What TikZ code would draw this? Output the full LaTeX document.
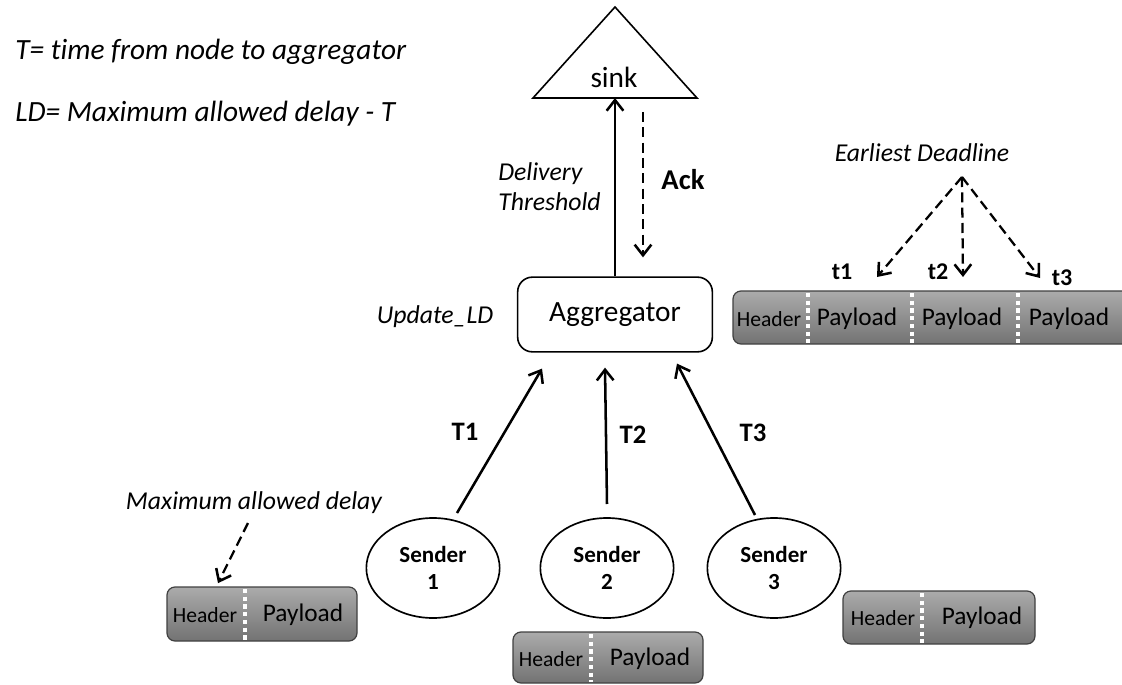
\documentclass[tikz,border=0pt]{standalone}
\usepackage{fontspec}
\setmainfont{Carlito}[Ligatures={NoCommon}]
\usetikzlibrary{arrows.meta,shapes.geometric,calc}

\tikzset{
  arr/.style={black, line width=1.9pt, -{Straight Barb[length=8pt,width=12.5pt,line width=1.9pt]}},
  dasharr/.style={arr, line width=1.7pt, dash pattern=on 7.5pt off 4pt},
  lbl/.style={inner sep=0pt, font=\fontsize{19.3}{22.5}\selectfont\itshape},
  deftxt/.style={inner sep=0pt, anchor=west, font=\fontsize{22}{26}\selectfont\itshape},
  bigtxt/.style={inner sep=0pt, font=\fontsize{22}{26}\selectfont},
  boldtxt/.style={inner sep=0pt, font=\fontsize{20}{24}\selectfont\bfseries},
  smallbold/.style={inner sep=0pt, font=\fontsize{18}{21}\selectfont\bfseries},
  sender/.style={draw, ellipse, line width=1.25pt, minimum width=100pt, minimum height=75pt, inner sep=0pt, align=center, font=\fontsize{17.3}{20}\selectfont\bfseries},
  packet/.style={draw=black!75, line width=0.9pt, rounded corners=6pt, top color=black!33, bottom color=black!55},
  divider/.style={white, line width=3pt, dash pattern=on 3.2pt off 2.6pt},
  hdr/.style={inner sep=0pt, font=\fontsize{16.2}{18}\selectfont},
  pld/.style={inner sep=0pt, font=\fontsize{19}{22}\selectfont},
}

\begin{document}
\begin{tikzpicture}[x=0.75pt, y=-0.75pt]
\useasboundingbox (0,0) rectangle (1122,685);

%% Definitions
\node[deftxt] (tdef) at (15,52) {T= time from node to aggregator};
\node[deftxt] (lddef) at (15,114) {LD= Maximum allowed delay - T};

%% Sink
\draw[line width=1.2pt] (533,98) -- (615,7) -- (697,98) -- cycle;
\coordinate (sinkbase) at (615,98);
\node[bigtxt] (sink) at (614,77) {sink};

%% Aggregator
\node[bigtxt, draw, line width=1.2pt, rounded corners=11pt, minimum width=146pt, minimum height=56pt] (agg) at (615,314.5) {Aggregator};
\node[lbl] (upd) at (435,317) {Update\_LD};

\draw[arr] (agg) -- (sinkbase);
\draw[dasharr] ($(sinkbase)+(28,14)$) -- ($(agg.north)+(28,-19)$);
\node[lbl, anchor=west, align=left] (thr) at (498,187) {Delivery\\Threshold};
\node[boldtxt, font=\fontsize{21.5}{24}\selectfont\bfseries] (ack) at (683,180) {Ack};

%% Senders
\node[sender] (s1) at (433,568) {Sender\\1};
\node[sender] (s2) at (607,568) {Sender\\2};
\node[sender] (s3) at (774,568) {Sender\\3};

\draw[arr] ($(s1)+(24,-55)$) -- ($(agg.south)+(-73,16)$);
\draw[arr] ($(s2)+(0,-64)$) -- ($(agg.south)+(-10,15)$);
\draw[arr] ($(s3)+(-19,-53)$) -- ($(agg.south)+(62,11)$);
\node[boldtxt] (T1) at (465,432) {T1};
\node[boldtxt] (T2) at (633,435) {T2};
\node[boldtxt] (T3) at (753,433) {T3};

%% Aggregated packet
\draw[packet] (733,291) rectangle (1135,344);
\draw[divider] (808,293) -- (808,343);
\draw[divider] (912,293) -- (912,343);
\draw[divider] (1018,293) -- (1018,343);
\node[hdr] (ha) at (769,319) {Header};
\node[pld] (pa1) at (857,319) {Payload};
\node[pld] (pa2) at (962,319) {Payload};
\node[pld] (pa3) at (1069,319) {Payload};

\node[lbl] (edl) at (922,153) {Earliest Deadline};
\node[smallbold] (t1) at (842,272) {t1};
\node[smallbold] (t2) at (938,272) {t2};
\node[smallbold] (t3) at (1062,278) {t3};
\coordinate (ed) at (962,177);
\draw[dasharr] (ed) -- ($(t1)+(35,5)$);
\draw[dasharr] (ed) -- ($(t2)+(25,5)$);
\draw[dasharr] (ed) -- ($(t3)+(-22,0)$);

%% Sender packets
\draw[packet] (167,587) rectangle (357,641);
\draw[divider] (245,589) -- (245,640);
\node[hdr] (h1) at (205,615) {Header};
\node[pld] (p1) at (303,615) {Payload};

\draw[packet] (513,632) rectangle (703,683);
\draw[divider] (591,634) -- (591,682);
\node[hdr] (h2) at (551,659) {Header};
\node[pld] (p2) at (650,659) {Payload};

\draw[packet] (843,591) rectangle (1035,644);
\draw[divider] (922,593) -- (922,643);
\node[hdr] (h3) at (883,618) {Header};
\node[pld] (p3) at (982,618) {Payload};

\node[lbl] (mad) at (254,503) {Maximum allowed delay};
\draw[dasharr] ($(mad)+(-6,20)$) -- ($(h1.north)+(13,-24)$);

\end{tikzpicture}
\end{document}
